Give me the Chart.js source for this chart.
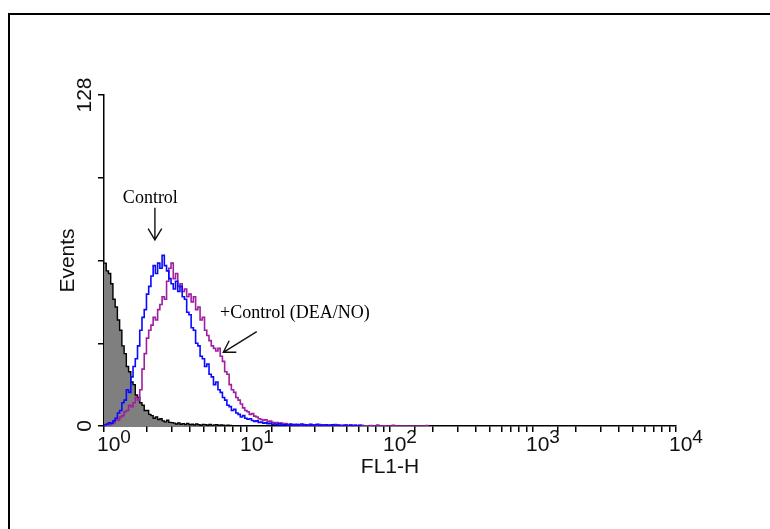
<!DOCTYPE html>
<html>
<head>
<meta charset="utf-8">
<script src="https://cdn.jsdelivr.net/npm/chart.js@4.4.1/dist/chart.umd.min.js"></script>
<style>
  body { margin: 0; background: #fff; }
  #wrap { position: relative; width: 770px; height: 529px; overflow: hidden; }
  #frame { position: absolute; left: 8px; top: 13px; width: 800px; height: 600px;
           border-left: 2px solid #000; border-top: 2px solid #000; }
  #chart { position: absolute; left: 0; top: 0; }
</style>
</head>
<body>
<div id="wrap">
  <div id="frame"></div>
  <canvas id="chart" width="770" height="529"></canvas>
</div>
<script>
// FL1-H histogram, log channels: 64 channels per decade, channel 0 = 10^0
const channelsPerDecade = 64;

// counts per channel
const unstained = [63, 60, 59, 55, 49, 46, 41, 37, 31, 28,
  23, 21, 17, 16, 12, 11, 9, 8, 6, 6,
  4.5, 4, 3, 3.5, 2.5, 2.8, 2, 1.6, 2.2, 1.4,
  1.3, 1.1, 0.8, 1.2, 0.7, 0.9, 0.6, 1.0, 0.5, 0.7,
  0.4, 0.8, 0.5, 0.3, 0.6, 0.5, 0.3, 0.6, 0.2, 0.4,
  0.5, 0.2, 0.4, 0.3, 0.1, 0.3, 0.2, 0];

const control = [0.5, 0.8, 1.2, 1, 2, 3, 5, 6, 9, 10,
  14, 13, 19, 23, 26, 31, 37, 42, 45, 51,
  54, 58, 62, 59, 63, 61, 66, 62, 60, 57,
  55, 53, 56, 52, 54, 50, 49, 44, 43, 38,
  37, 32, 31, 27, 26, 23, 24, 20, 19, 16,
  17, 14, 13, 11, 10, 8, 7.5, 6, 6.5, 5,
  4.5, 3.5, 4, 3, 2.6, 2.8, 2.1, 1.8, 2, 1.4,
  1.5, 1.1, 1.2, 0.9, 1, 0.7, 0.8, 0.5, 0.9, 0.4,
  0.6, 0.5, 0.3, 0.7, 0.4, 0.6, 0.2, 0.5, 0.8, 0.3,
  0.5, 0.2, 0.6, 0.3, 0.4, 0.7, 0.2, 0.4, 0.1, 0.5,
  0.3, 0.2, 0.5, 0.1, 0.4, 0.2, 0, 0.3, 0.2, 0,
  0.4, 0, 0.2, 0, 0.3, 0];

const deaNo = [0.2, 0.5, 0.4, 1, 1.3, 2.5, 2.2, 3.5, 4, 5.5,
  6, 8, 7.5, 9, 11, 10, 14, 22, 28, 34,
  37, 39, 42, 41, 45, 47, 50, 49, 56, 61,
  63, 57, 59, 54, 55, 52, 53, 50, 51, 48,
  50, 45, 46, 41, 42, 37, 35, 33, 31, 30,
  29, 30, 27, 25, 21, 20, 16, 14, 13, 11,
  10, 8.5, 7, 6, 5.5, 4.5, 4.8, 3.8, 3.5, 2.8,
  2.5, 2.2, 2.4, 1.7, 1.9, 1.4, 1.2, 1.3, 0.9, 1.1,
  0.7, 0.9, 0.5, 0.8, 0.6, 0.4, 0.7, 0.5, 0.3, 0.6,
  0.5, 0.3, 0.7, 0.4, 0.5, 0.2, 0.6, 0.3, 0.5, 0.4,
  0.2, 0.5, 0.3, 0.6, 0.2, 0.4, 0.1, 0.3, 0.5, 0.2,
  0.3, 0.1, 0.4, 0, 0.2, 0.3, 0, 0.1, 0, 0.2,
  0, 0, 0.4, 0, 0, 0.1, 0, 0, 0, 0.3,
  0, 0, 0, 0, 0, 0, 0, 0, 0, 0,
  0, 0, 0, 0, 0.2, 0];

const decades = [0, 1, 2, 3, 4];
const yLabels = [0, 128];

// annotations in data units
const notes = [
  { text: 'Control', x: 2.11, y: 86.3, align: 'center' },
  { text: '+Control (DEA/NO)', x: 6.48, y: 41.8, align: 'left' }
];
const arrows = [
  { from: [2.27, 84.4], to: [2.27, 72] },
  { from: [11.7, 36.5], to: [6.83, 28.5] }
];

function toPoints(counts) {
  return counts.map((v, c) => ({ x: Math.pow(10, c / channelsPerDecade), y: v }));
}

const sans = '"Liberation Sans", Arial, sans-serif';
const serif = '"Liberation Serif", "Times New Roman", serif';

const extraText = {
  id: 'extraText',
  afterDraw(chart) {
    const ctx = chart.ctx;
    const xs = chart.scales.x, ys = chart.scales.y;
    ctx.save();
    ctx.fillStyle = '#111';

    // x tick labels 10^n
    ctx.textAlign = 'left';
    ctx.textBaseline = 'alphabetic';
    decades.forEach(d => {
      const px = xs.getPixelForValue(Math.pow(10, d));
      ctx.font = '21px ' + sans;
      ctx.fillText('10', px - 7, ys.bottom + 25);
      const w = ctx.measureText('10').width;
      ctx.font = '19px ' + sans;
      ctx.fillText(String(d), px - 7 + w, ys.bottom + 17);
    });

    // y tick labels, rotated
    ctx.font = '21px ' + sans;
    ctx.textAlign = 'center';
    ctx.textBaseline = 'middle';
    yLabels.forEach(v => {
      const py = ys.getPixelForValue(v);
      ctx.save();
      ctx.translate(ys.right - 19, py);
      ctx.rotate(-Math.PI / 2);
      ctx.fillText(String(v), 0, 0);
      ctx.restore();
    });

    // notes + arrows
    ctx.fillStyle = '#000';
    ctx.font = '18px ' + serif;
    ctx.textBaseline = 'alphabetic';
    notes.forEach(n => {
      ctx.textAlign = n.align;
      ctx.fillText(n.text, xs.getPixelForValue(n.x), ys.getPixelForValue(n.y));
    });
    ctx.strokeStyle = '#111';
    ctx.lineWidth = 1.4;
    arrows.forEach(a => {
      const x1 = xs.getPixelForValue(a.from[0]), y1 = ys.getPixelForValue(a.from[1]);
      const x2 = xs.getPixelForValue(a.to[0]), y2 = ys.getPixelForValue(a.to[1]);
      const ang = Math.atan2(y2 - y1, x2 - x1);
      const len = 13, spread = 0.55;
      ctx.beginPath();
      ctx.moveTo(x1, y1);
      ctx.lineTo(x2, y2);
      ctx.moveTo(x2 - len * Math.cos(ang - spread), y2 - len * Math.sin(ang - spread));
      ctx.lineTo(x2, y2);
      ctx.lineTo(x2 - len * Math.cos(ang + spread), y2 - len * Math.sin(ang + spread));
      ctx.stroke();
    });
    ctx.restore();
  }
};

new Chart(document.getElementById('chart'), {
  type: 'line',
  data: {
    datasets: [
      {
        label: 'Control',
        data: toPoints(control),
        borderColor: '#0a0aff',
        borderWidth: 1.6,
        stepped: true,
        pointRadius: 0,
        fill: false,
        order: 1
      },
      {
        label: '+Control (DEA/NO)',
        data: toPoints(deaNo),
        borderColor: '#a01ea0',
        borderWidth: 1.6,
        stepped: true,
        pointRadius: 0,
        fill: false,
        order: 2
      },
      {
        label: 'Unstained',
        data: toPoints(unstained),
        borderColor: '#000',
        backgroundColor: '#7f7f7f',
        borderWidth: 1.4,
        stepped: true,
        pointRadius: 0,
        fill: 'origin',
        order: 3
      }
    ]
  },
  options: {
    responsive: false,
    animation: false,
    devicePixelRatio: 1,
    layout: { padding: { left: 52, top: 95, right: 94, bottom: 45 } },
    plugins: { legend: { display: false }, tooltip: { enabled: false } },
    scales: {
      x: {
        type: 'logarithmic',
        min: 1,
        max: 10000,
        afterFit(s) { s.height = 58; },
        ticks: { display: false },
        grid: { drawOnChartArea: false, drawTicks: true, tickLength: 6, color: '#000', lineWidth: 1.5 },
        border: { color: '#000', width: 1.5 },
        title: { display: true, text: 'FL1-H', color: '#111', font: { family: sans, size: 21 } }
      },
      y: {
        min: 0,
        max: 128,
        afterFit(s) { s.width = 52; },
        ticks: { display: false, stepSize: 32 },
        grid: { drawOnChartArea: false, drawTicks: true, tickLength: 6, color: '#000', lineWidth: 1.5 },
        border: { color: '#000', width: 1.5 },
        title: { display: true, text: 'Events', color: '#111', font: { family: sans, size: 21 } }
      }
    }
  },
  plugins: [extraText]
});
</script>
</body>
</html>
